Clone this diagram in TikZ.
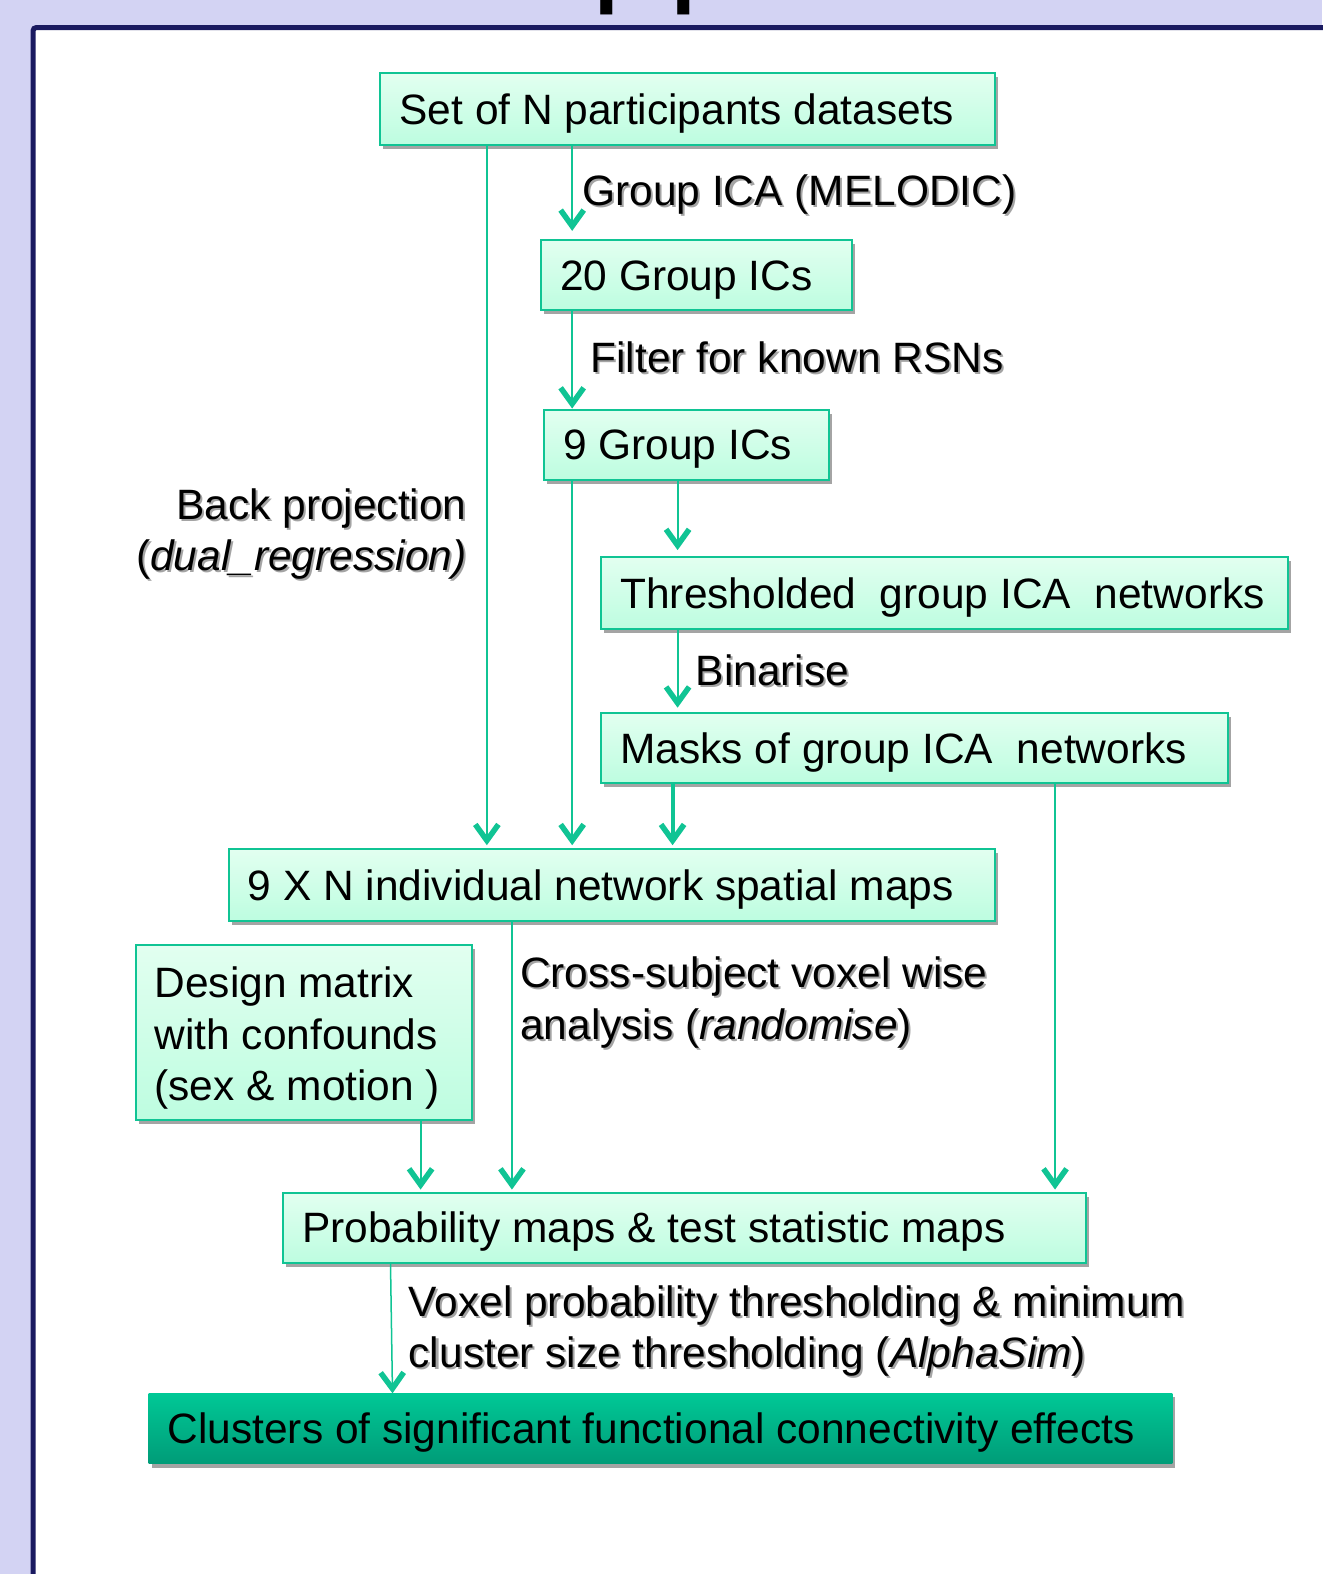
\documentclass[tikz,border=0pt]{standalone}
\usepackage{fontspec}
\setmainfont{Liberation Sans}
\usepackage{tikz}
\usetikzlibrary{positioning}
\usetikzlibrary{arrows.meta,shadows}

\definecolor{bglav}{HTML}{D3D3F3}
\definecolor{framenavy}{HTML}{1A1A60}
\definecolor{flowgreen}{HTML}{10C494}
\definecolor{boxtop}{HTML}{E2FFF0}
\definecolor{boxbot}{HTML}{BDFDE0}
\definecolor{finaltop}{HTML}{00C896}
\definecolor{finalbot}{HTML}{009C78}
\definecolor{shadowgray}{HTML}{A4A4A4}

\newcommand{\boxfont}{\fontsize{42.3}{51.5}\selectfont}
% label with a grey copy under it
\newcommand{\flowlabel}[5][]{%
  \node[lbl,#1,anchor=#3,text=shadowgray,xshift=2pt,yshift=-2pt] at (#4) {#5};
  \node[lbl,#1,anchor=#3] (#2) at (#4) {#5};}

\begin{document}
\begin{tikzpicture}[x=1pt,y=-1pt,
    box/.style={draw=flowgreen,line width=2pt,top color=boxtop,bottom color=boxbot,
      drop shadow={shadow xshift=3pt,shadow yshift=-4pt,fill=shadowgray,opacity=1},
      anchor=north west,outer sep=0pt,inner xsep=19pt,inner ysep=0pt,align=flush left,font=\boxfont},
    oneline/.style={text height=30.3pt,text depth=0pt},
    finalbox/.style={box,oneline,draw=none,top color=finaltop,bottom color=finalbot},
    lbl/.style={inner sep=0pt,align=left,font=\boxfont},
    flow/.style={draw=flowgreen,line width=2pt,-{Straight Barb[length=16pt,width=23pt,line width=5.5pt]}}]
  \useasboundingbox (0,0) rectangle (1317,1568);
  \fill[bglav] (0,0) rectangle (1317,1568);
  \draw[framenavy,line width=5pt,fill=white,rounded corners=3pt] (33,27.5) rectangle (1360,1620);
  \begin{scope}
    \clip (0,0) rectangle (1317,25);
    \node[anchor=base west,inner sep=0pt,font=\fontsize{136.5}{136.5}\selectfont] (title) at (589.4,-13.1) {pp};
  \end{scope}

  \node[box,oneline,text width=574pt,minimum height=71pt] (sets) at (379,73) {Set of N participants datasets};
  \node[box,oneline,text width=272pt,minimum height=70pt] (g20) at (539,239) {20 Group ICs};
  \node[box,oneline,text width=246pt,minimum height=70pt] (g9) at (542,408) {9 Group ICs};
  \node[box,oneline,text width=646pt,minimum height=72pt] (thr) at (599,555) {Thresholded\ \ group ICA\ \ networks};
  \node[box,oneline,text width=586pt,minimum height=70pt] (masks) at (599,710) {Masks of group ICA\ \ networks};
  \node[box,oneline,text width=725pt,minimum height=71pt] (maps) at (228,846) {9 X N individual network spatial maps};
  \node[box,text width=297pt,minimum height=175pt] (design) at (135,941) {\rule{0pt}{42pt}Design matrix\\with confounds\\(sex \& motion )};
  \node[box,oneline,text width=762pt,minimum height=70pt] (prob) at (282,1188) {Probability maps \& test statistic maps};
  \node[finalbox,text width=982pt,minimum height=70pt] (clusters) at (148,1388) {Clusters of significant functional connectivity effects};

  \draw[flow,shorten >=9pt] (sets.south -| 570,0) -- (g20.north -| 570,0);
  \draw[flow,shorten >=1pt] (g20.south -| 570,0) -- (g9.north -| 570,0);
  \draw[flow,shorten >=7pt] (g9.south -| 675,0) -- (thr.north -| 675,0);
  \draw[flow,shorten >=5pt] (thr.south -| 675,0) -- (masks.north -| 675,0);
  \draw[flow,line width=4pt,shorten >=4pt] (masks.south -| 670,0) -- (maps.north -| 670,0);
  \draw[flow,shorten >=4pt] (sets.south -| 485,0) -- (maps.north -| 485,0);
  \draw[flow,shorten >=4pt] (g9.south -| 570,0) -- (maps.north -| 570,0);
  \draw[flow,shorten >=3pt] (maps.south -| 510,0) -- (prob.north -| 510,0);
  \draw[flow,shorten >=3pt] (design.south -| 419,0) -- (prob.north -| 419,0);
  \draw[flow,shorten >=3pt] (masks.south -| 1051,0) -- (prob.north -| 1051,0);
  \draw[flow,line width=1.5pt] (prob.south -| 389,0) -- (clusters.north -| 391,0);

  \flowlabel{lmelodic}{base west}{580,205}{Group ICA (MELODIC)}
  \flowlabel{lfilter}{base west}{588,371}{Filter for known RSNs}
  \flowlabel[align=right]{lback}{east}{465,532}{Back projection\\(\textit{dual\_regression)}}
  \flowlabel{lbinarise}{base west}{693,683}{Binarise}
  \flowlabel{lrandomise}{west}{518,999}{Cross-subject voxel wise\\analysis (\textit{randomise})}
  \flowlabel{lalphasim}{west}{407,1326}{Voxel probability thresholding \& minimum\\cluster size thresholding (\textit{AlphaSim})}
\end{tikzpicture}
\end{document}
